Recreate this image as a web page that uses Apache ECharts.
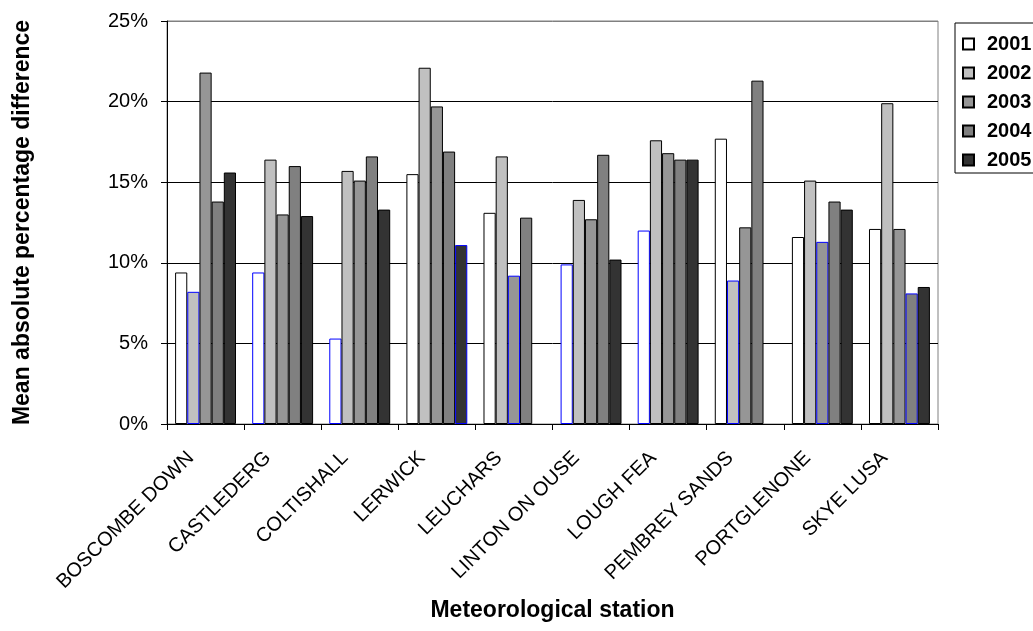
<!DOCTYPE html>
<html>
<head>
<meta charset="utf-8">
<script src="https://cdn.jsdelivr.net/npm/echarts@6/dist/echarts.min.js"></script>
<style>
  html, body { margin: 0; padding: 0; background: #ffffff; }
  #chart { width: 1033px; height: 631px; }
</style>
</head>
<body>
<div id="chart"></div>
<script>
// Stations along the category axis
const stations = ['BOSCOMBE DOWN', 'CASTLEDERG', 'COLTISHALL', 'LERWICK', 'LEUCHARS',
  'LINTON ON OUSE', 'LOUGH FEA', 'PEMBREY SANDS', 'PORTGLENONE', 'SKYE LUSA'];
const years = ['2001', '2002', '2003', '2004', '2005'];

// Mean absolute percentage difference (%) per station, one array per year
const v2001 = [9.4, 9.4, 5.3, 15.5, 13.1, 9.9, 12.0, 17.7, 11.6, 12.1];
const v2002 = [8.2, 16.4, 15.7, 22.1, 16.6, 13.9, 17.6, 8.9, 15.1, 19.9];
const v2003 = [21.8, 13.0, 15.1, 19.7, 9.2, 12.7, 16.8, 12.2, 11.3, 12.1];
const v2004 = [13.8, 16.0, 16.6, 16.9, 12.8, 16.7, 16.4, 21.3, 13.8, 8.1];
const v2005 = [15.6, 12.9, 13.3, 11.1, null, 10.2, 16.4, null, 13.3, 8.5];

// Y axis ticks (percent)
const yTicks = [0, 5, 10, 15, 20, 25];

// Year index whose bar carries a blue outline at each station
const outlinedYear = [1, 0, 0, 4, 2, 0, 0, 1, 2, 3];

const yearValues = [v2001, v2002, v2003, v2004, v2005];
const fills = ['#ffffff', '#c0c0c0', '#969696', '#808080', '#333333'];
const FONT = 'Liberation Sans, Arial, sans-serif';

const series = yearValues.map((vals, yi) => ({
  type: 'bar',
  name: years[yi],
  barGap: '0%',
  barCategoryGap: '21%',
  itemStyle: { color: fills[yi], borderColor: '#000000', borderWidth: 1 },
  data: vals.map((v, si) => {
    if (v === null) return '-';
    if (outlinedYear[si] === yi) {
      return { value: v, itemStyle: { borderColor: '#0000ff' } };
    }
    return v;
  })
}));

// Gridlines are black; the top edge of the plot stays grey like the frame
const splitColors = yTicks.map((t, i) => (i === yTicks.length - 1 ? '#808080' : '#000000'));

const chart = echarts.init(document.getElementById('chart'), null, { renderer: 'canvas' });
chart.setOption({
  animation: false,
  backgroundColor: '#ffffff',
  grid: {
    left: 167, right: 95, top: 21, bottom: 207,
    outerBoundsMode: 'none',
    containLabel: false,
    show: true, borderColor: '#808080', borderWidth: 1, backgroundColor: 'transparent'
  },
  legend: {
    orient: 'vertical',
    left: 955, top: 23,
    data: years,
    icon: 'rect',
    itemWidth: 11, itemHeight: 11,
    itemGap: 9,
    padding: [11, 40, 3, 7],
    borderColor: '#000000', borderWidth: 1,
    textStyle: { fontFamily: FONT, fontWeight: 'bold', fontSize: 20, color: '#000', padding: [0, 0, 0, 8] }
  },
  xAxis: {
    type: 'category',
    data: stations,
    name: 'Meteorological station',
    nameLocation: 'middle',
    nameGap: 173,
    nameTextStyle: { fontFamily: FONT, fontWeight: 'bold', fontSize: 23, color: '#000' },
    axisLine: { lineStyle: { color: '#000', width: 1 } },
    axisTick: { show: true, length: 6, lineStyle: { color: '#000' } },
    axisLabel: {
      rotate: 45, interval: 0, margin: 16, padding: [0, 21, 0, 0],
      fontFamily: FONT, fontSize: 20, color: '#000'
    },
    splitLine: { show: false }
  },
  yAxis: {
    type: 'value',
    min: yTicks[0], max: yTicks[yTicks.length - 1], interval: yTicks[1] - yTicks[0],
    name: 'Mean absolute percentage difference',
    nameLocation: 'middle',
    nameGap: 133,
    nameTextStyle: { fontFamily: FONT, fontWeight: 'bold', fontSize: 23, color: '#000' },
    axisLine: { show: true, lineStyle: { color: '#000', width: 1 } },
    axisTick: { show: true, length: 6, lineStyle: { color: '#000' } },
    axisLabel: { formatter: '{value}%', margin: 19, fontFamily: FONT, fontSize: 20, color: '#000' },
    splitLine: { show: true, lineStyle: { color: splitColors, width: 1 } }
  },
  series: series
});
</script>
</body>
</html>
